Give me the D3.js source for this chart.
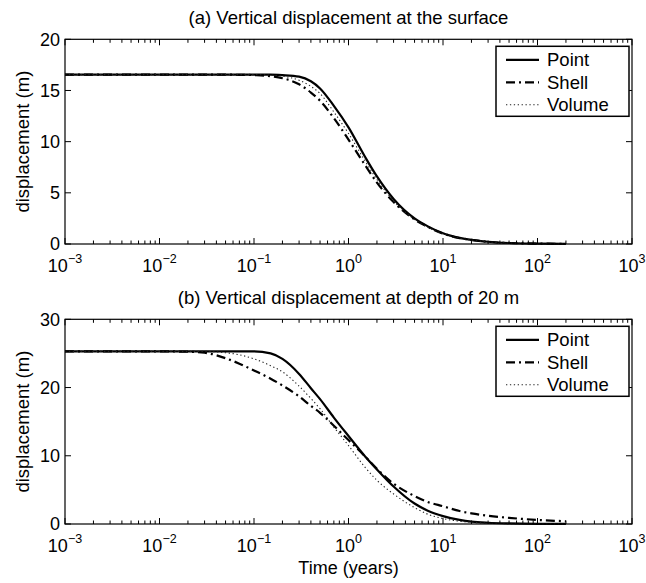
<!DOCTYPE html>
<html>
<head>
<meta charset="utf-8">
<script src="https://cdn.jsdelivr.net/npm/d3@7"></script>
<style>
  html, body { margin: 0; padding: 0; background: #fff; }
  text { font-family: "Liberation Sans", Arial, Helvetica, sans-serif; fill: #000; }
</style>
</head>
<body>
<svg id="chart" width="646" height="583"></svg>
<script>
// ---- Data ----
const timeYears = [0.001, 0.01, 0.02, 0.03, 0.05, 0.07, 0.1, 0.15, 0.2, 0.3, 0.4, 0.5, 0.7, 1, 1.5, 2, 3, 5, 7, 10, 15, 20, 30, 50, 100, 200];

// (a) surface
const surfPoint  = [16.55, 16.55, 16.55, 16.55, 16.55, 16.55, 16.55, 16.55, 16.5, 16.35, 15.9, 15.2, 13.5, 11.4, 8.5, 6.6, 4.4, 2.5, 1.7, 1.05, 0.6, 0.4, 0.22, 0.1, 0.04, 0.02];
const surfShell  = [16.55, 16.55, 16.55, 16.55, 16.55, 16.53, 16.5, 16.4, 16.2, 15.6, 14.8, 14.0, 12.3, 10.2, 7.7, 6.0, 4.1, 2.4, 1.65, 1.02, 0.58, 0.4, 0.21, 0.1, 0.04, 0.02];
const surfVolume = [16.55, 16.55, 16.55, 16.55, 16.55, 16.55, 16.55, 16.5, 16.4, 16.0, 15.4, 14.7, 12.9, 10.8, 8.1, 6.3, 4.2, 2.4, 1.6, 1.0, 0.57, 0.38, 0.2, 0.09, 0.03, 0.01];

// (b) depth of 20 m
const deepPoint  = [25.3, 25.3, 25.3, 25.3, 25.3, 25.3, 25.3, 25.0, 24.2, 22.0, 19.9, 18.3, 15.6, 12.9, 9.9, 8.0, 5.5, 3.0, 1.9, 1.15, 0.6, 0.35, 0.18, 0.08, 0.03, 0.02];
const deepShell  = [25.3, 25.3, 25.25, 25.1, 24.3, 23.5, 22.5, 21.3, 20.3, 18.7, 17.3, 16.3, 14.4, 12.3, 9.9, 8.1, 5.9, 4.1, 3.2, 2.6, 1.9, 1.55, 1.2, 0.9, 0.6, 0.4];
const deepVolume = [25.3, 25.3, 25.3, 25.3, 25.1, 24.8, 24.2, 23.2, 22.3, 20.2, 18.4, 16.9, 14.2, 11.5, 8.3, 6.4, 4.4, 2.4, 1.4, 0.8, 0.4, 0.25, 0.12, 0.05, 0.02, 0.01];

const seriesNames = ["Point", "Shell", "Volume"];
const xTickExps = [-3, -2, -1, 0, 1, 2, 3];
const yTicksA = [0, 5, 10, 15, 20];
const yTicksB = [0, 10, 20, 30];
const titleA = "(a) Vertical displacement at the surface";
const titleB = "(b) Vertical displacement at depth of 20 m";
const yLabel = "displacement (m)";
const xLabel = "Time (years)";

// ---- Styles ----
const styles = {
  Point:  { width: 2.2, dash: null, color: "#000" },
  Shell:  { width: 2.2, dash: "9,4,2,4", color: "#000" },
  Volume: { width: 1.1, dash: "1.3,2.6", color: "#222" }
};
const FS = 18;

const svg = d3.select("#chart");
const left = 65, right = 632;

function panel(cfg) {
  const top = cfg.top, bottom = cfg.top + 204.7;
  const x = d3.scaleLog().domain([1e-3, 1e3]).range([left, right]);
  const y = d3.scaleLinear().domain([0, cfg.ymax]).range([bottom, top]);
  const g = svg.append("g");

  const line = d3.line().x(d => x(d[0])).y(d => y(d[1])).curve(d3.curveMonotoneX);
  cfg.series.forEach((vals, i) => {
    const st = styles[seriesNames[i]];
    g.append("path")
      .attr("d", line(timeYears.map((t, k) => [t, vals[k]])))
      .attr("fill", "none")
      .attr("stroke", st.color)
      .attr("stroke-width", st.width)
      .attr("stroke-dasharray", st.dash);
  });

  g.append("rect").attr("x", left).attr("y", top).attr("width", right - left).attr("height", bottom - top)
    .attr("fill", "none").attr("stroke", "#000").attr("stroke-width", 1.2);

  const majors = xTickExps.map(e => Math.pow(10, e));
  const minors = [];
  xTickExps.slice(0, -1).forEach(e => { for (let m = 2; m <= 9; m++) minors.push(m * Math.pow(10, e)); });
  [[bottom, -1], [top, 1]].forEach(([yy, dir]) => {
    majors.forEach(v => g.append("line").attr("x1", x(v)).attr("x2", x(v)).attr("y1", yy).attr("y2", yy + dir * 6)
      .attr("stroke", "#000").attr("stroke-width", 1));
    minors.forEach(v => g.append("line").attr("x1", x(v)).attr("x2", x(v)).attr("y1", yy).attr("y2", yy + dir * 3.5)
      .attr("stroke", "#000").attr("stroke-width", 1));
  });
  xTickExps.forEach(e => {
    const t = g.append("text").attr("x", x(Math.pow(10, e))).attr("y", bottom + 28)
      .attr("text-anchor", "middle").style("font-size", FS + "px");
    t.append("tspan").text("10");
    t.append("tspan").attr("dy", -9).style("font-size", "12.5px").text(e < 0 ? "\u2212" + (-e) : String(e));
  });

  cfg.yticks.forEach(v => {
    [[left, 1], [right, -1]].forEach(([xx, dir]) => {
      g.append("line").attr("x1", xx).attr("x2", xx + dir * 6).attr("y1", y(v)).attr("y2", y(v))
        .attr("stroke", "#000").attr("stroke-width", 1);
    });
    g.append("text").attr("x", 60).attr("y", y(v)).attr("dy", "0.36em")
      .attr("text-anchor", "end").style("font-size", FS + "px").text(v);
  });

  g.append("text").attr("x", (left + right) / 2).attr("y", top - 15)
    .attr("text-anchor", "middle").style("font-size", "18.5px").text(cfg.title);

  g.append("text").attr("transform", `translate(29,${(top + bottom) / 2}) rotate(-90)`)
    .attr("text-anchor", "middle").style("font-size", "18.5px").text(yLabel);

  const lx = 496, ly = top + 7, lw = 133, lh = 70;
  g.append("rect").attr("x", lx).attr("y", ly).attr("width", lw).attr("height", lh)
    .attr("fill", "#fff").attr("stroke", "#000").attr("stroke-width", 1.5);
  seriesNames.forEach((n, i) => {
    const cy = ly + 13.5 + i * 22.5;
    const st = styles[n];
    g.append("line").attr("x1", lx + 10).attr("x2", lx + 43).attr("y1", cy).attr("y2", cy)
      .attr("stroke", st.color).attr("stroke-width", st.width).attr("stroke-dasharray", st.dash);
    g.append("text").attr("x", lx + 51).attr("y", cy).attr("dy", "0.36em")
      .style("font-size", "18.5px").text(n);
  });

  if (cfg.xlabel) {
    g.append("text").attr("x", (left + right) / 2).attr("y", bottom + 50)
      .attr("text-anchor", "middle").style("font-size", FS + "px").text(xLabel);
  }
}

panel({ top: 39.3, ymax: 20, yticks: yTicksA, series: [surfPoint, surfShell, surfVolume], title: titleA });
panel({ top: 319.3, ymax: 30, yticks: yTicksB, series: [deepPoint, deepShell, deepVolume], title: titleB, xlabel: true });
</script>
</body>
</html>
